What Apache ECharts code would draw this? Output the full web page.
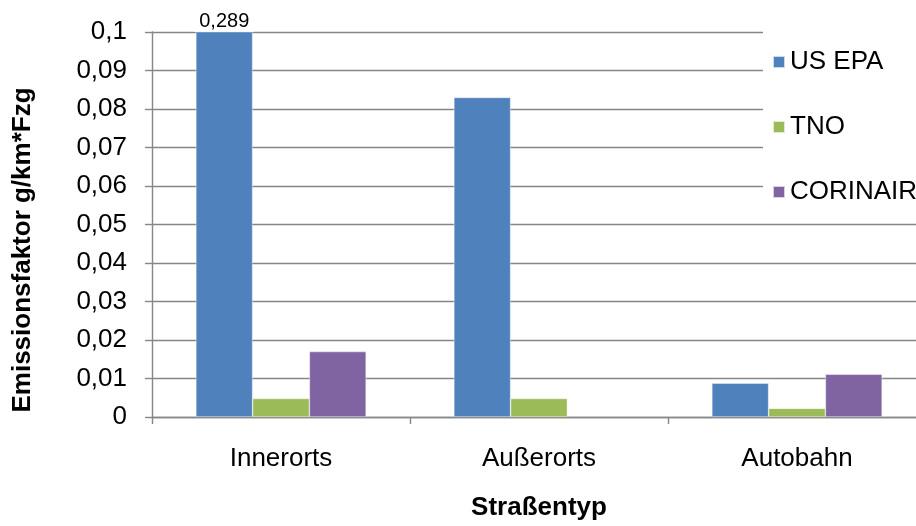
<!DOCTYPE html>
<html>
<head>
<meta charset="utf-8">
<script src="https://cdn.jsdelivr.net/npm/echarts@6/dist/echarts.min.js"></script>
<style>
  html, body { margin: 0; padding: 0; background: #fff; overflow: hidden; width: 916px; height: 526px; }
  /* the drawing surface runs past the right window edge */
  #chart { width: 940px; height: 526px; }
</style>
</head>
<body>
<div id="chart"></div>
<script>
// Road types on the category axis
const categories = ['Innerorts', 'Außerorts', 'Autobahn'];
// Emission factors in g/km*Fzg per source
const usEpa = [0.289, 0.083, 0.0088];
const tno = [0.0048, 0.0048, 0.00225];
const corinair = [0.017, 0, 0.0111];
// Value axis range
const yMin = 0;
const yMax = 0.1;
const yStep = 0.01;

const FONT = '"Liberation Sans", Arial, sans-serif';
const fmt = v => String(parseFloat(v.toFixed(4))).replace('.', ',');

const chart = echarts.init(document.getElementById('chart'));

function barSeries(name, data, color, withLabel) {
  return {
    name: name,
    type: 'bar',
    data: data.map(v => (v === 0 ? null : v)),
    clip: true,
    barGap: '0%',
    barCategoryGap: '34%',
    itemStyle: { color: color, borderColor: 'rgba(255,255,255,0.7)', borderWidth: 0.6 },
    label: withLabel ? {
      show: true,
      position: 'top',
      distance: 0,
      color: '#000',
      fontFamily: FONT,
      fontSize: 20,
      backgroundColor: '#fff',
      padding: [0, 5, 0, 5],
      // values beyond the axis range are written above the cut bar
      formatter: p => (p.value > yMax ? fmt(p.value) : '')
    } : { show: false },
    emphasis: { disabled: true }
  };
}

chart.setOption({
  animation: false,
  textStyle: { fontFamily: FONT },
  grid: { left: 152, top: 32, right: 14, bottom: 106, containLabel: false },
  legend: {
    orient: 'vertical',
    left: 763,
    top: 30,
    backgroundColor: '#fff',
    padding: [19, 40, 17, 9],
    itemGap: 39,
    itemWidth: 12,
    itemHeight: 12,
    itemTextGap: 9,
    icon: 'rect',
    textStyle: { fontFamily: FONT, fontSize: 26, color: '#000' },
    data: ['US EPA', 'TNO', 'CORINAIR']
  },
  xAxis: {
    type: 'category',
    data: categories,
    name: 'Straßentyp',
    nameLocation: 'middle',
    nameGap: 78,
    nameTextStyle: { fontFamily: FONT, fontSize: 26, fontWeight: 'bold', color: '#000' },
    axisLine: { lineStyle: { color: '#868686', width: 1.4 } },
    axisTick: { show: true, length: 7, lineStyle: { color: '#868686', width: 1.4 } },
    axisLabel: { margin: 29, fontFamily: FONT, fontSize: 26, color: '#000' },
    splitLine: { show: false }
  },
  yAxis: {
    type: 'value',
    min: yMin,
    max: yMax,
    interval: yStep,
    axisLine: { show: true, lineStyle: { color: '#868686', width: 1.4 } },
    axisTick: { show: true, length: 7, lineStyle: { color: '#868686', width: 1.4 } },
    axisLabel: { margin: 25, fontFamily: FONT, fontSize: 26, color: '#000', formatter: fmt },
    splitLine: { show: true, lineStyle: { color: '#868686', width: 1.4 } }
  },
  graphic: [{
    type: 'text',
    x: 23,
    y: 250,
    rotation: Math.PI / 2,
    style: {
      text: 'Emissionsfaktor g/km*Fzg',
      font: 'bold 26px "Liberation Sans", Arial, sans-serif',
      fill: '#000',
      align: 'center',
      verticalAlign: 'middle',
      textAlign: 'center',
      textVerticalAlign: 'middle'
    }
  }],
  series: [
    barSeries('US EPA', usEpa, '#4F81BD', true),
    barSeries('TNO', tno, '#9BBB59', false),
    barSeries('CORINAIR', corinair, '#8064A2', false)
  ]
});
</script>
</body>
</html>
